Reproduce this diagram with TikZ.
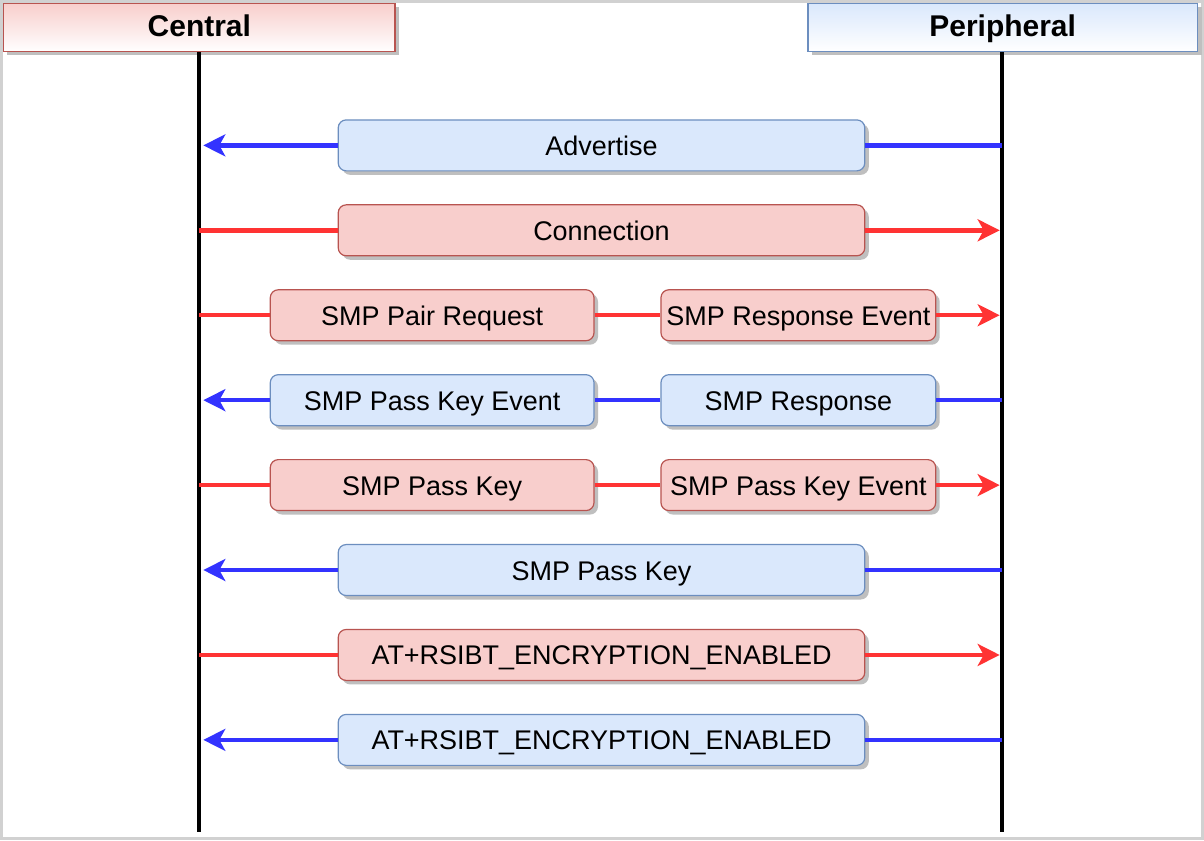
\documentclass[tikz,border=0pt]{standalone}
\usepackage{fontspec}
\setmainfont{Liberation Sans}
\usepackage{tikz}
\usetikzlibrary{shapes}
\usetikzlibrary{arrows.meta}
\usetikzlibrary{shadows}
\definecolor{redfill}{HTML}{F8CECC}
\definecolor{redline}{HTML}{B85450}
\definecolor{bluefill}{HTML}{DAE8FC}
\definecolor{blueline}{HTML}{6C8EBF}
\definecolor{msgred}{HTML}{FF3333}
\definecolor{msgblue}{HTML}{3333FF}
\tikzstyle{boxshadow} = [drop shadow={shadow xshift=2pt, shadow yshift=-2pt, fill=black!25, opacity=1}]
\tikzstyle{head_central} = [rectangle, minimum width=196pt, minimum height=24pt, text centered, draw=redline, line width=0.8pt,
top color=redfill, bottom color=white, boxshadow, text height=12pt, text depth=3pt, font=\fontsize{15}{18}\selectfont\bfseries]
\tikzstyle{head_peripheral} = [rectangle, minimum width=195pt, minimum height=24pt, text centered, draw=blueline, line width=0.8pt,
top color=bluefill, bottom color=white, boxshadow, text height=12pt, text depth=3pt, font=\fontsize{15}{18}\selectfont\bfseries]
\tikzstyle{msg_red} = [rectangle, rounded corners=4pt, minimum height=25.5pt, inner sep=0pt, text centered, draw=redline, line width=0.6pt,
fill=redfill, boxshadow, text height=12pt, text depth=2pt, font=\fontsize{13.5}{16}\selectfont]
\tikzstyle{msg_blue} = [rectangle, rounded corners=4pt, minimum height=25.5pt, inner sep=0pt, text centered, draw=blueline, line width=0.6pt,
fill=bluefill, boxshadow, text height=12pt, text depth=2pt, font=\fontsize{13.5}{16}\selectfont]
\tikzstyle{wide} = [minimum width=263.5pt]
\tikzstyle{leftbox} = [minimum width=162pt]
\tikzstyle{rightbox} = [minimum width=137.5pt]
\tikzstyle{lifeline} = [line width=2pt, black]
\tikzstyle{redarrow} = [line width=2.2pt, msgred, -{Stealth[length=11pt, width=11pt, inset=3pt]}]
\tikzstyle{bluearrow} = [line width=2.2pt, msgblue, -{Stealth[length=11pt, width=11pt, inset=3pt]}]
\tikzstyle{redline} = [line width=2.2pt, msgred]
\tikzstyle{blueline} = [line width=2.2pt, msgblue]

\begin{document}
\begin{tikzpicture}[x=0.5pt, y=-0.5pt]

    % frame
    \fill[white] (0,0) rectangle (1204,840);
    \draw[black!18, line width=1.5pt] (1,1) rectangle (1203,839);
    \useasboundingbox (0,0) rectangle (1204,840);

    % lifelines
    \coordinate(cenBot) at (199,832);
    \coordinate(perBot) at (1002,832);
    \node(central)[head_central] at (199,27) {Central};
    \node(peripheral)[head_peripheral] at (1003,27) {Peripheral};
    \draw[lifeline] (central.south) -- (cenBot);
    \draw[lifeline] (peripheral.south -| perBot) -- (perBot);

    % messages
    \node(adv)[msg_blue, wide] at (601.5,145) {Advertise};
    \draw[blueline] (perBot |- adv) -- (adv.east);
    \draw[bluearrow] (adv.west) -- ([xshift=2pt]cenBot |- adv);

    \node(conn)[msg_red, wide] at (601.5,230) {Connection};
    \draw[redline] (cenBot |- conn) -- (conn.west);
    \draw[redarrow] (conn.east) -- ([xshift=-1pt]perBot |- conn);

    \node(pairReq)[msg_red, leftbox] at (432,315) {SMP Pair Request};
    \node(respEvt)[msg_red, rightbox] at (798.5,315) {SMP Response Event};
    \draw[redline] (cenBot |- pairReq) -- (pairReq.west);
    \draw[redline] (pairReq.east) -- (respEvt.west);
    \draw[redarrow] (respEvt.east) -- ([xshift=-1pt]perBot |- respEvt);

    \node(passKeyEvt)[msg_blue, leftbox] at (432,400) {SMP Pass Key Event};
    \node(resp)[msg_blue, rightbox] at (798.5,400) {SMP Response};
    \draw[blueline] (perBot |- resp) -- (resp.east);
    \draw[blueline] (resp.west) -- (passKeyEvt.east);
    \draw[bluearrow] (passKeyEvt.west) -- ([xshift=2pt]cenBot |- passKeyEvt);

    \node(passKey)[msg_red, leftbox] at (432,485) {SMP Pass Key};
    \node(passKeyEvt2)[msg_red, rightbox] at (798.5,485) {SMP Pass Key Event};
    \draw[redline] (cenBot |- passKey) -- (passKey.west);
    \draw[redline] (passKey.east) -- (passKeyEvt2.west);
    \draw[redarrow] (passKeyEvt2.east) -- ([xshift=-1pt]perBot |- passKeyEvt2);

    \node(passKey2)[msg_blue, wide] at (601.5,570) {SMP Pass Key};
    \draw[blueline] (perBot |- passKey2) -- (passKey2.east);
    \draw[bluearrow] (passKey2.west) -- ([xshift=2pt]cenBot |- passKey2);

    \node(encReq)[msg_red, wide] at (601.5,655) {AT+RSIBT\_ENCRYPTION\_ENABLED};
    \draw[redline] (cenBot |- encReq) -- (encReq.west);
    \draw[redarrow] (encReq.east) -- ([xshift=-1pt]perBot |- encReq);

    \node(encResp)[msg_blue, wide] at (601.5,740) {AT+RSIBT\_ENCRYPTION\_ENABLED};
    \draw[blueline] (perBot |- encResp) -- (encResp.east);
    \draw[bluearrow] (encResp.west) -- ([xshift=2pt]cenBot |- encResp);

\end{tikzpicture}
\end{document}
